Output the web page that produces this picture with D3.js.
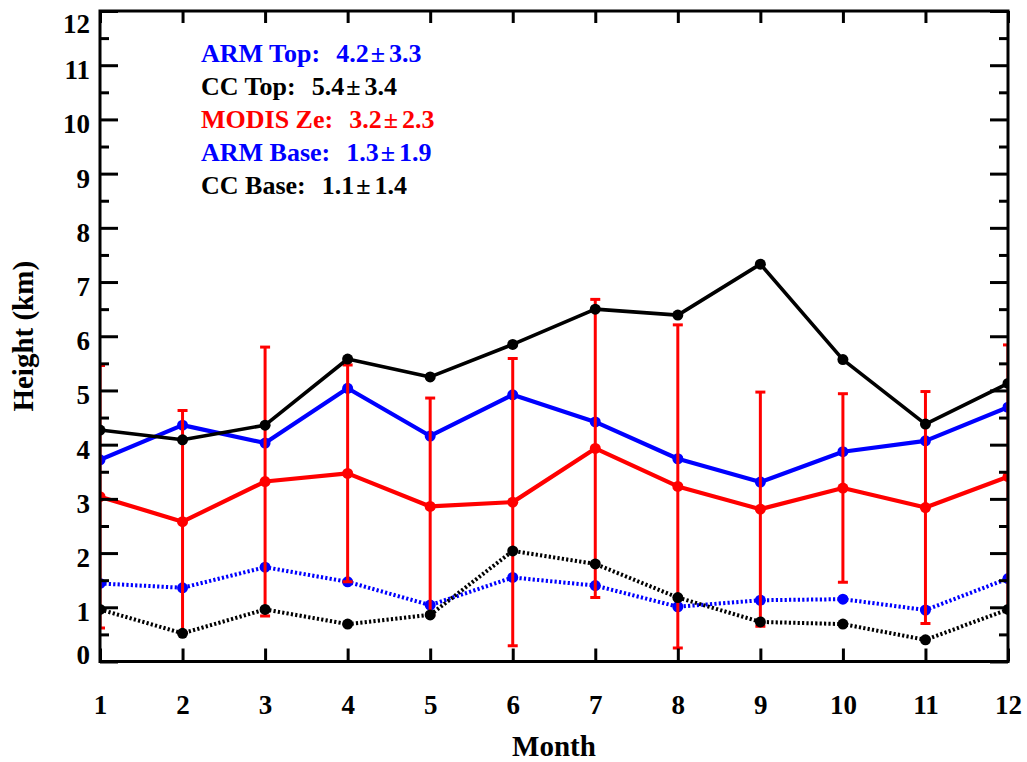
<!DOCTYPE html>
<html>
<head>
<meta charset="utf-8">
<script src="https://cdn.jsdelivr.net/npm/d3@7"></script>
<style>
  html, body { margin: 0; padding: 0; background: #fff; }
  svg text { font-family: "Liberation Serif", "Times New Roman", serif; }
</style>
</head>
<body>
<svg id="chart" width="1027" height="762"></svg>
<script>
// Monthly cloud heights (km)
const months   = [1, 2, 3, 4, 5, 6, 7, 8, 9, 10, 11, 12];
const armTop   = [3.72, 4.36, 4.03, 5.04, 4.16, 4.92, 4.42, 3.74, 3.31, 3.87, 4.07, 4.69];
const ccTop    = [4.27, 4.09, 4.36, 5.58, 5.25, 5.85, 6.50, 6.39, 7.33, 5.57, 4.38, 5.13];
const modisZe  = [3.04, 2.58, 3.32, 3.47, 2.86, 2.94, 3.93, 3.23, 2.81, 3.20, 2.84, 3.41];
const modisErr = [2.42, 2.05, 2.48, 2.00, 2.00, 2.65, 2.75, 2.98, 2.16, 1.74, 2.14, 2.43];
const armBase  = [1.44, 1.36, 1.74, 1.47, 1.04, 1.55, 1.40, 1.01, 1.13, 1.15, 0.95, 1.53];
const ccBase   = [0.96, 0.52, 0.96, 0.69, 0.86, 2.04, 1.80, 1.18, 0.73, 0.69, 0.40, 0.96];

const yMajorTicks = [0, 1, 2, 3, 4, 5, 6, 7, 8, 9, 10, 11, 12];
const yMinorTicks = d3.range(0.5, 12, 1);

// Legend entries: label, mean, std
const legendLabels = ["ARM Top:", "CC Top:", "MODIS Ze:", "ARM Base:", "CC Base:"];
const legendMeans  = ["4.2", "5.4", "3.2", "1.3", "1.1"];
const legendStds   = ["3.3", "3.4", "2.3", "1.9", "1.4"];
const legendColors = ["#0000ff", "#000000", "#ff0000", "#0000ff", "#000000"];

const svg = d3.select("#chart");
const pLeft = 100, pRight = 1008, pTop = 11, pBottom = 661.5;

const x = d3.scaleLinear().domain([1, 12]).range([pLeft, pRight]);
const y = d3.scaleLinear().domain([0, 12]).range([pBottom, pTop]);

svg.append("defs").append("clipPath").attr("id", "plotClip")
  .append("rect").attr("x", pLeft).attr("y", pTop)
  .attr("width", pRight - pLeft).attr("height", pBottom - pTop);

const plot = svg.append("g").attr("clip-path", "url(#plotClip)");

const line = d3.line().x((d, i) => x(months[i])).y(d => y(d));

function drawSeries(values, color, dashed, width) {
  plot.append("path")
    .datum(values)
    .attr("fill", "none")
    .attr("stroke", color)
    .attr("stroke-width", width)
    .attr("stroke-linejoin", "round")
    .attr("stroke-dasharray", dashed ? "2.2,2.2" : null)
    .attr("d", line);
  plot.append("g").selectAll("circle")
    .data(values).join("circle")
    .attr("cx", (d, i) => x(months[i]))
    .attr("cy", d => y(d))
    .attr("r", 5.5)
    .attr("fill", color);
}

drawSeries(armBase, "#0000ff", true, 4);
drawSeries(armTop, "#0000ff", false, 4.2);

// MODIS error bars
const err = plot.append("g").attr("stroke", "#ff0000").attr("stroke-width", 3);
modisZe.forEach((v, i) => {
  const cx = x(months[i]);
  const y0 = y(v - modisErr[i]), y1 = y(v + modisErr[i]);
  err.append("line").attr("x1", cx).attr("x2", cx).attr("y1", y0).attr("y2", y1);
  err.append("line").attr("x1", cx - 5).attr("x2", cx + 5).attr("y1", y0).attr("y2", y0);
  err.append("line").attr("x1", cx - 5).attr("x2", cx + 5).attr("y1", y1).attr("y2", y1);
});
drawSeries(modisZe, "#ff0000", false, 4.2);
drawSeries(ccTop, "#000000", false, 3.6);
drawSeries(ccBase, "#000000", true, 4);

// Axes
const axisG = svg.append("g");
function styleAxis(g) {
  g.select(".domain").remove();
  g.selectAll(".tick line").attr("stroke", "#000").attr("stroke-width", 3);
  g.selectAll("text").attr("font-size", 27).attr("font-weight", "bold").attr("fill", "#000");
}

// bottom
const xb = axisG.append("g").attr("transform", `translate(0,${pBottom})`)
  .call(d3.axisBottom(x).tickValues(months).tickSize(-13).tickPadding(0).tickFormat(d3.format("d")));
styleAxis(xb);
xb.selectAll("text").attr("y", 52).attr("dy", 0);

// top
const xt = axisG.append("g").attr("transform", `translate(0,${pTop})`)
  .call(d3.axisTop(x).tickValues(months).tickSize(-12).tickFormat(""));
styleAxis(xt);

// left
const yl = axisG.append("g").attr("transform", `translate(${pLeft},0)`)
  .call(d3.axisLeft(y).tickValues(yMajorTicks).tickSize(-18).tickPadding(10).tickFormat(d3.format("d")));
styleAxis(yl);
yl.selectAll("text").attr("x", -10).attr("dy", d => d === 12 ? 21 : d === 0 ? 2 : 13.4);
const ylm = axisG.append("g").attr("transform", `translate(${pLeft},0)`)
  .call(d3.axisLeft(y).tickValues(yMinorTicks).tickSize(-9).tickFormat(""));
styleAxis(ylm);

// right
const yr = axisG.append("g").attr("transform", `translate(${pRight},0)`)
  .call(d3.axisRight(y).tickValues(yMajorTicks).tickSize(-18).tickFormat(""));
styleAxis(yr);
const yrm = axisG.append("g").attr("transform", `translate(${pRight},0)`)
  .call(d3.axisRight(y).tickValues(yMinorTicks).tickSize(-9).tickFormat(""));
styleAxis(yrm);

// frame
svg.append("rect").attr("x", pLeft).attr("y", pTop)
  .attr("width", pRight - pLeft).attr("height", pBottom - pTop)
  .attr("fill", "none").attr("stroke", "#000").attr("stroke-width", 3);

// axis titles
svg.append("text").attr("x", (pLeft + pRight) / 2).attr("y", 756)
  .attr("text-anchor", "middle").attr("font-size", 29).attr("font-weight", "bold")
  .text("Month");
svg.append("text").attr("transform", `translate(33,${(pTop + pBottom) / 2}) rotate(-90)`)
  .attr("text-anchor", "middle").attr("font-size", 29).attr("font-weight", "bold")
  .text("Height (km)");

// legend text
const legend = svg.append("g");
legendLabels.forEach((lab, i) => {
  const t = legend.append("text")
    .attr("x", 201).attr("y", 61.5 + i * 33.2)
    .attr("font-size", 26).attr("font-weight", "bold").attr("fill", legendColors[i]);
  t.append("tspan").text(lab);
  t.append("tspan").attr("dx", 16).text(legendMeans[i]);
  t.append("tspan").attr("dx", 2).text("\u00b1");
  t.append("tspan").attr("dx", 4).text(legendStds[i]);
});
</script>
</body>
</html>
